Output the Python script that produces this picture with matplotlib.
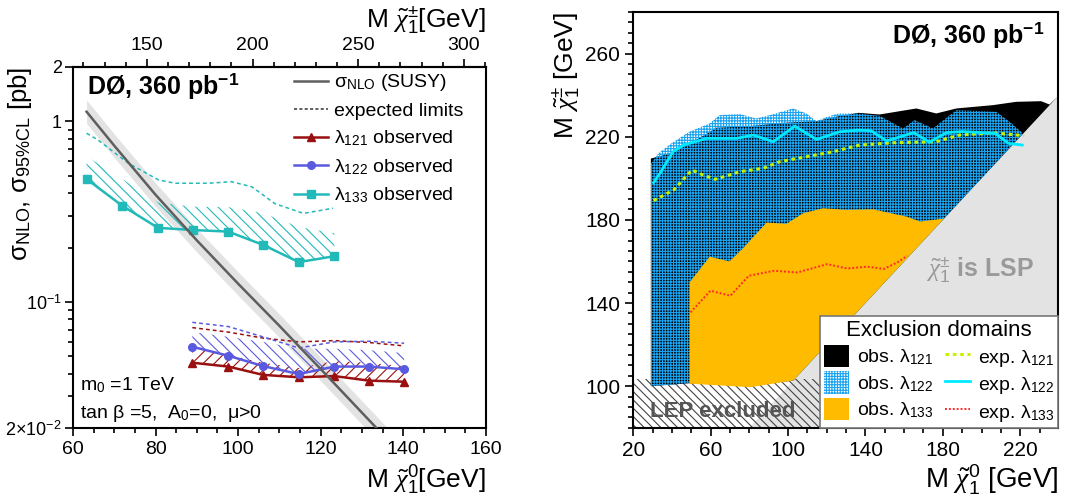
import numpy as np
import matplotlib
matplotlib.use("Agg")
import matplotlib.pyplot as plt
from matplotlib.lines import Line2D
from matplotlib.patches import Patch, Polygon
from matplotlib.ticker import MultipleLocator, LogLocator, NullFormatter

plt.rcParams["font.family"] = ["Liberation Sans", "DejaVu Sans"]
plt.rcParams["mathtext.fontset"] = "custom"
plt.rcParams["mathtext.rm"] = "Liberation Sans"
plt.rcParams["mathtext.it"] = "Liberation Serif:italic"
plt.rcParams["mathtext.bf"] = "Liberation Sans:bold"
plt.rcParams["hatch.linewidth"] = 0.8

# ---- left panel: cross sections / limits [pb] vs M(neutralino) [GeV]
m_susy = [63.3, 70, 80, 90, 100, 110, 120, 130, 136]
sigma_susy = [1.13, 0.733, 0.392, 0.219, 0.126, 0.0736, 0.0424, 0.0243, 0.0174]

m133 = [63.3, 71.9, 80.6, 89.0, 97.6, 106.0, 114.7, 123.3]
obs133 = [0.479, 0.341, 0.257, 0.250, 0.245, 0.207, 0.166, 0.179]
band133 = [0.64, 0.48, 0.355, 0.337, 0.335, 0.31, 0.26, 0.24]
m133_exp = [63.3, 66.1, 73.4, 80.7, 84.7, 92.8, 98.4, 103.3, 108.9, 115.8, 123.0]
exp133 = [0.859, 0.787, 0.586, 0.474, 0.454, 0.454, 0.463, 0.434, 0.35, 0.309, 0.33]

m12x = [88.9, 97.6, 106.0, 114.7, 123.3, 131.7, 140.2]
obs121 = [0.0460, 0.0438, 0.0394, 0.0382, 0.0388, 0.0366, 0.0361]
band121 = [0.056, 0.051, 0.046, 0.043, 0.047, 0.046, 0.044]
exp121 = [0.072, 0.068, 0.063, 0.060, 0.061, 0.0595, 0.057]
obs122 = [0.0564, 0.0503, 0.0441, 0.0398, 0.0438, 0.0438, 0.0423]
band122 = [0.068, 0.064, 0.060, 0.055, 0.055, 0.054, 0.052]
exp122 = [0.077, 0.073, 0.064, 0.0555, 0.060, 0.0605, 0.059]

# ---- right panel: exclusion contours, M(chargino) vs M(neutralino) [GeV]
dom121_x = [29.1, 29.1, 40.3, 57.5, 62.7, 80.3, 97.5, 114.7, 126.1, 136.4, 147.3,
            166.3, 176.6, 187.0, 205.9, 217.9, 230.8, 235.1, 239.5, 102.7, 80.3, 49.1]
dom121_y = [100.0, 209.5, 212.3, 221.1, 224.3, 225.1, 226.7, 227.5, 229.9, 231.5, 230.7,
            233.6, 231.2, 233.6, 235.2, 236.8, 237.1, 235.5, 239.5, 102.7, 100.3, 101.4]

dom122_x = [29.1, 29.1, 33, 40, 49, 59.5, 64.6, 75, 83.6, 90.5, 102.6, 109.5, 114.7,
            120, 126, 136, 147.4, 159.4, 165.4, 174.9, 187, 207.6, 214.5, 221.5,
            102.7, 80.3, 49.1]
dom122_y = [100.0, 207, 212, 217, 222.4, 226.4, 230.4, 230.9, 228.8, 230.4, 233.6, 231.2,
            227.5, 229.5, 231.2, 231.2, 230, 224, 228, 224, 232.8, 232, 227.2, 221.5,
            102.7, 100.3, 101.4]

dom133_x = [49.1, 49.1, 59.5, 69.7, 76.8, 88.9, 99.2, 107.8, 118.1, 130.1, 143.9,
            161.1, 168.2, 178.5, 180.5, 102.7, 80.3]
dom133_y = [101.2, 149.9, 162.3, 160, 166.4, 178.7, 178.1, 183.2, 185.6, 184.8, 185.1,
            181.6, 179.2, 180.4, 180.5, 102.7, 99.5]

exp121_x = [30.5, 40.9, 50.3, 55, 62.2, 75.1, 87.1, 95.7, 109.5, 123.3, 137, 154.2,
            176.6, 188.6, 205.9, 222]
exp121_y = [189.3, 194.4, 204, 202, 199.5, 203.2, 204.8, 208, 210.4, 212.8, 216, 217.1,
            217.6, 220.8, 221.9, 220.5]

exp122_x = [30.5, 33.8, 40.6, 46, 57.9, 73.4, 82, 92.3, 103.5, 114.7, 126.7, 137, 143,
            151, 165, 173, 182, 190, 207, 214, 221]
exp122_y = [197.9, 202.4, 212.8, 216, 219.2, 219.2, 220.8, 217.6, 225.1, 218.7, 222.4,
            223.2, 222.8, 218, 222, 217.4, 222, 222.5, 221.6, 216.8, 216]

exp133_x = [49.6, 59.9, 70.2, 79.7, 92.7, 104.8, 120.2, 130.6, 140.9, 149.5, 156.4, 161.7]
exp133_y = [135.5, 145.9, 143.5, 153.1, 155.5, 154.7, 158.7, 156.6, 157.5, 156.4, 159.5, 162.7]

lep_limit = 103.3

C133 = "#22b9b9"
C121 = "#9a1010"
C122 = "#5a5ae0"
BLUE_PAT = "#1aa3f0"

fig = plt.figure(figsize=(10.81, 4.97), dpi=100)
ax_l = fig.add_axes([0.0675, 0.1388, 0.382, 0.7264])
ax_r = fig.add_axes([0.5858, 0.1394, 0.3929, 0.8364])

# ================= left panel =================
ax_l.set_yscale("log")
ax_l.set_xlim(60, 160)
ax_l.set_ylim(0.02, 2)

sig = np.asarray(sigma_susy)
ax_l.fill_between(m_susy, sig * 10 ** -0.065, sig * 10 ** 0.065, color="#e3e3e3", lw=0, zorder=1)
ax_l.plot(m_susy, sigma_susy, color="#5e5e5e", lw=1.8, zorder=5)

ax_l.fill_between(m133, obs133, band133, facecolor="none", edgecolor=C133,
                  hatch="\\" * 3, lw=0, zorder=2)
ax_l.fill_between(m12x, obs121, band121, facecolor="none", edgecolor=C121,
                  hatch="/" * 3, lw=0, zorder=2)
ax_l.fill_between(m12x, obs122, band122, facecolor="none", edgecolor=C122,
                  hatch="\\" * 3, lw=0, zorder=2)

ax_l.plot(m133_exp, exp133, color=C133, lw=1.1, ls=(0, (2.5, 2)), zorder=3)
ax_l.plot(m12x, exp121, color=C121, lw=1.1, ls=(0, (2.5, 2)), zorder=3)
ax_l.plot(m12x, exp122, color=C122, lw=1.1, ls=(0, (2.5, 2)), zorder=3)

ax_l.plot(m133, obs133, color=C133, lw=1.8, marker="s", ms=5.5, zorder=4)
ax_l.plot(m12x, obs121, color=C121, lw=1.8, marker="^", ms=6, zorder=4)
ax_l.plot(m12x, obs122, color=C122, lw=1.8, marker="o", ms=5.5, zorder=4)

ax_l.set_yticks([0.02, 0.1, 1, 2], ["2×10$^{-2}$", "10$^{-1}$", "1", "2"])
ax_l.yaxis.set_minor_locator(LogLocator(base=10, subs=np.arange(2, 10)))
ax_l.yaxis.set_minor_formatter(NullFormatter())
ax_l.xaxis.set_major_locator(MultipleLocator(20))
ax_l.xaxis.set_minor_locator(MultipleLocator(5))
ax_l.tick_params(which="both", labelsize=14, width=1.2, top=False, right=False)
ax_l.tick_params(axis="y", labelsize=13, pad=2)
ax_l.tick_params(which="major", length=6)
ax_l.tick_params(which="minor", length=3.5)
for sp in ax_l.spines.values():
    sp.set_linewidth(1.5)

sec = ax_l.secondary_xaxis("top", functions=(lambda x: 1.954 * x - 2.2,
                                             lambda y: (y + 2.2) / 1.954))
sec.set_xticks([150, 200, 250, 300])
sec.xaxis.set_minor_locator(MultipleLocator(10))
sec.tick_params(which="both", labelsize=14, width=1.2)
sec.tick_params(which="major", length=6)
sec.tick_params(which="minor", length=3.5)
sec.spines["top"].set_linewidth(1.5)
sec.set_xlabel(r"M $\tilde{\chi}^{\pm}_{1}$[GeV]", fontsize=19, loc="right", labelpad=6)

ax_l.set_xlabel(r"M $\tilde{\chi}^{0}_{1}$[GeV]", fontsize=19, loc="right", labelpad=4)
ax_l.set_ylabel(r"σ$_{\rm NLO}$, σ$_{\rm 95\%CL}$ [pb]", fontsize=18.5, loc="top")
ax_l.yaxis.set_label_coords(-0.094, 1.0)

ax_l.text(0.033, 0.925, r"DØ, 360 pb$^{\mathbf{-1}}$", transform=ax_l.transAxes,
          fontsize=18, fontweight="bold", va="baseline")
ax_l.text(0.018, 0.12, r"m$_0$ =1 TeV", transform=ax_l.transAxes, fontsize=14, va="center")
ax_l.text(0.018, 0.04, r"tan β =5,  A$_0$=0,  μ>0", transform=ax_l.transAxes,
          fontsize=14, va="center")

left_handles = [
    Line2D([], [], color="#5e5e5e", lw=1.8),
    Line2D([], [], color="#333333", lw=1.1, ls=(0, (2, 1.5))),
    Line2D([], [], color=C121, lw=1.8, marker="^", ms=6),
    Line2D([], [], color=C122, lw=1.8, marker="o", ms=5.5),
    Line2D([], [], color=C133, lw=1.8, marker="s", ms=5.5),
]
left_labels = [
    r"σ$_{\rm NLO}$ (SUSY)",
    "expected limits",
    r"λ$_{121}$ observed",
    r"λ$_{122}$ observed",
    r"λ$_{133}$ observed",
]
ax_l.legend(left_handles, left_labels, loc="upper left", bbox_to_anchor=(0.535, 0.985),
            frameon=False, fontsize=14, handlelength=1.75, handletextpad=0.3,
            labelspacing=0.45, borderpad=0, borderaxespad=0)

# ================= right panel =================
ax_r.set_xlim(20, 239.5)
ax_r.set_ylim(80, 280)

ax_r.add_patch(Polygon([(80, 80), (280, 280), (280, 80)], closed=True,
                       facecolor="#e3e3e3", edgecolor="none", zorder=1))
ax_r.fill_between([20, 240], [80, 80], [lep_limit, lep_limit], facecolor="none",
                  edgecolor="#444444", hatch="\\" * 4, lw=0, zorder=2)

ax_r.add_patch(Polygon(np.column_stack([dom121_x, dom121_y]), closed=True,
                       facecolor="black", edgecolor="none", zorder=3))
ax_r.add_patch(Polygon(np.column_stack([dom122_x, dom122_y]), closed=True,
                       facecolor="none", edgecolor=BLUE_PAT, hatch="+" * 6, lw=0, zorder=4))
ax_r.add_patch(Polygon(np.column_stack([dom133_x, dom133_y]), closed=True,
                       facecolor="#ffbb00", edgecolor="none", zorder=5))

ax_r.plot(exp121_x, exp121_y, color="#c8f000", lw=2.2, ls=(0, (1.2, 1.2)), zorder=6)
ax_r.plot(exp122_x, exp122_y, color="#00eaff", lw=2.0, zorder=6)
ax_r.plot(exp133_x, exp133_y, color="#ff2a2a", lw=1.4, ls=(0, (1, 1)), zorder=6)

ax_r.text(66, 88, "LEP excluded", fontsize=16, fontweight="bold", color="#555555",
          ha="center", va="center", zorder=7)
ax_r.text(199, 156, r"$\tilde{\chi}^{\pm}_{1}$ is LSP", fontsize=18, fontweight="bold",
          color="#9a9a9a", ha="center", va="center", zorder=7)
ax_r.text(0.968, 0.925, r"DØ, 360 pb$^{\mathbf{-1}}$", transform=ax_r.transAxes,
          fontsize=18, fontweight="bold", ha="right", va="baseline", zorder=7)

ax_r.set_xticks([20, 60, 100, 140, 180, 220])
ax_r.xaxis.set_minor_locator(MultipleLocator(10))
ax_r.set_yticks([100, 140, 180, 220, 260])
ax_r.yaxis.set_minor_locator(MultipleLocator(5))
ax_r.tick_params(which="both", labelsize=15, width=1.2, top=False, right=False)
ax_r.tick_params(which="major", length=6)
ax_r.tick_params(which="minor", length=3.5)
for sp in ax_r.spines.values():
    sp.set_linewidth(1.5)
ax_r.set_xlabel(r"M $\tilde{\chi}^{0}_{1}$ [GeV]", fontsize=20, loc="right", labelpad=2)
ax_r.set_ylabel(r"M $\tilde{\chi}^{\pm}_{1}$ [GeV]", fontsize=19, loc="top", labelpad=2)

right_handles = [
    Patch(facecolor="black", edgecolor="none"),
    Patch(facecolor="white", edgecolor=BLUE_PAT, hatch="+" * 6, lw=0),
    Patch(facecolor="#ffbb00", edgecolor="none"),
    Line2D([], [], color="#c8f000", lw=2.2, ls=(0, (1.2, 1.2))),
    Line2D([], [], color="#00eaff", lw=2.0),
    Line2D([], [], color="#ff2a2a", lw=1.4, ls=(0, (1, 1))),
]
right_labels = [r"obs. λ$_{121}$", r"obs. λ$_{122}$", r"obs. λ$_{133}$",
                r"exp. λ$_{121}$", r"exp. λ$_{122}$", r"exp. λ$_{133}$"]
leg = ax_r.legend(right_handles, right_labels, ncol=2, loc="lower right",
                  bbox_to_anchor=(1.0, 0.0), borderaxespad=0, fontsize=14,
                  title="Exclusion domains", title_fontsize=16, fancybox=False,
                  framealpha=1, edgecolor="#777777", handlelength=1.3,
                  handleheight=1.4, handletextpad=0.4, columnspacing=0.6,
                  labelspacing=0.2, borderpad=0.2)
leg.get_frame().set_linewidth(1.2)
leg.set_zorder(10)

fig.savefig("out.png", dpi=100)
